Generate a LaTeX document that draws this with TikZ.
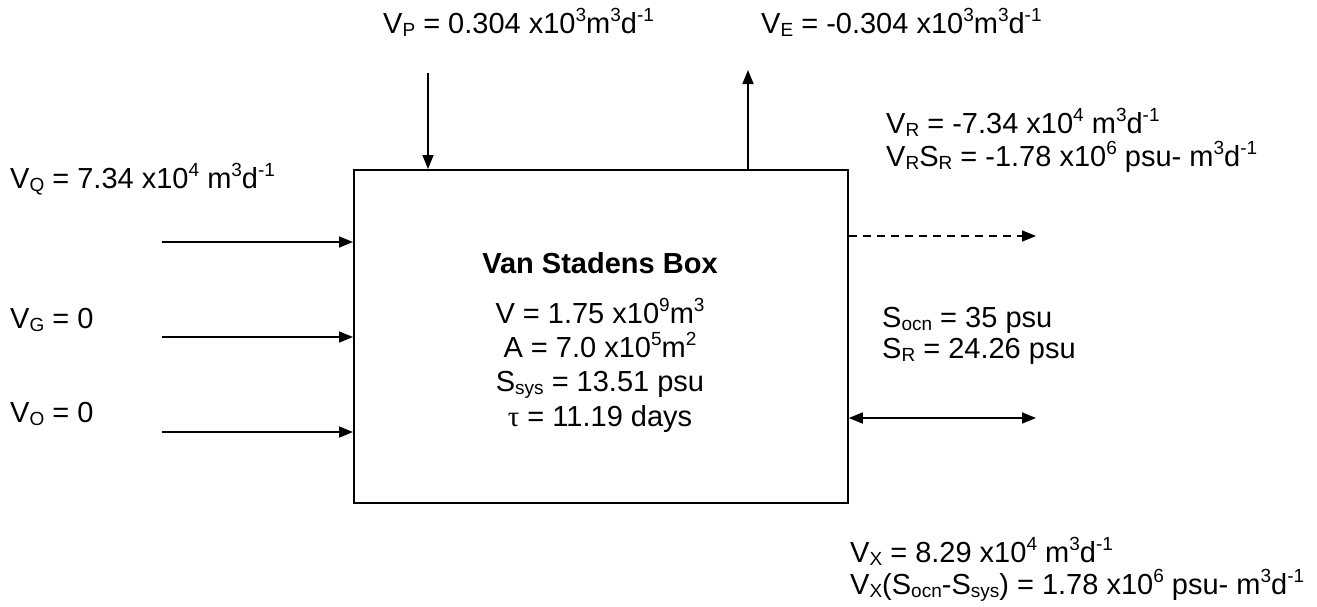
\documentclass[tikz,border=0pt]{standalone}
\usepackage{fontspec}
\setmainfont{Liberation Sans}
\newfontfamily\symfont{Liberation Serif}
\usetikzlibrary{arrows.meta}
\newcommand{\sbs}[1]{\raisebox{-0.12em}{\fontsize{19}{19}\selectfont #1}}
\newcommand{\sps}[1]{\raisebox{0.38em}{\fontsize{19}{19}\selectfont #1}}
\begin{document}
\begin{tikzpicture}[x=1pt,y=-1pt,
  lbl/.style={anchor=base west, inner sep=0pt, font=\fontsize{29}{33}\selectfont},
  ctr/.style={anchor=base, inner sep=0pt, font=\fontsize{29}{33}\selectfont},
  flow/.style={line width=1.6pt, -{Triangle[length=14pt,width=11pt]}},
  twoway/.style={line width=1.6pt, {Triangle[length=14pt,width=11pt]}-{Triangle[length=14pt,width=11pt]}},
  dflow/.style={flow, dash pattern=on 8pt off 6pt}]
\useasboundingbox (0,0) rectangle (1317,606);
\node[draw, line width=1.8pt, minimum width=494pt, minimum height=333pt, anchor=north west, inner sep=0pt] (box) at (353,169) {};

% box text
\node[ctr, font=\fontsize{29}{33}\selectfont\bfseries] (title) at (600,273) {Van Stadens Box};
\node[ctr] (vol) at (600,323) {V = 1.75 x10\sps{9}m\sps{3}};
\node[ctr] (area) at (600,357) {A = 7.0 x10\sps{5}m\sps{2}};
\node[ctr] (ssys) at (600,391) {S\sbs{sys} = 13.51 psu};
\node[ctr] (tau) at (600,426) {{\symfont τ} = 11.19 days};

% labels
\node[lbl] (vp) at (383,33) {V\sbs{P} = 0.304 x10\sps{3}m\sps{3}d\sps{-1}};
\node[lbl] (ve) at (761,33) {V\sbs{E} = -0.304 x10\sps{3}m\sps{3}d\sps{-1}};
\node[lbl] (vq) at (10,188) {V\sbs{Q} = 7.34 x10\sps{4} m\sps{3}d\sps{-1}};
\node[lbl] (vg) at (10,328) {V\sbs{G} = 0};
\node[lbl] (vo) at (10,422) {V\sbs{O} = 0};
\node[lbl] (vr) at (886,133) {V\sbs{R} = -7.34 x10\sps{4} m\sps{3}d\sps{-1}};
\node[lbl] (vrsr) at (886,166) {V\sbs{R}S\sbs{R} = -1.78 x10\sps{6} psu- m\sps{3}d\sps{-1}};
\node[lbl] (socn) at (882,327) {S\sbs{ocn} = 35 psu};
\node[lbl] (sr) at (882,358) {S\sbs{R} = 24.26 psu};
\node[lbl] (vx) at (850,562) {V\sbs{X} = 8.29 x10\sps{4} m\sps{3}d\sps{-1}};
\node[lbl] (vxs) at (850,594) {V\sbs{X}(S\sbs{ocn}-S\sbs{sys}) = 1.78 x10\sps{6} psu- m\sps{3}d\sps{-1}};

% free ends
\coordinate (pin) at (428,73);
\coordinate (eout) at (748,70);
\coordinate (qin) at (162,242);
\coordinate (gin) at (162,337);
\coordinate (oin) at (162,432);
\coordinate (rout) at (1036,236);
\coordinate (xend) at (1036,418);

% connectors
\draw[flow] (pin) -- (pin |- box.north);
\draw[flow] (eout |- box.north) -- (eout);
\draw[flow] (qin) -- (qin -| box.west);
\draw[flow] (gin) -- (gin -| box.west);
\draw[flow] (oin) -- (oin -| box.west);
\draw[dflow] (rout -| box.east) -- (rout);
\draw[twoway] (xend -| box.east) -- (xend);
\end{tikzpicture}
\end{document}
